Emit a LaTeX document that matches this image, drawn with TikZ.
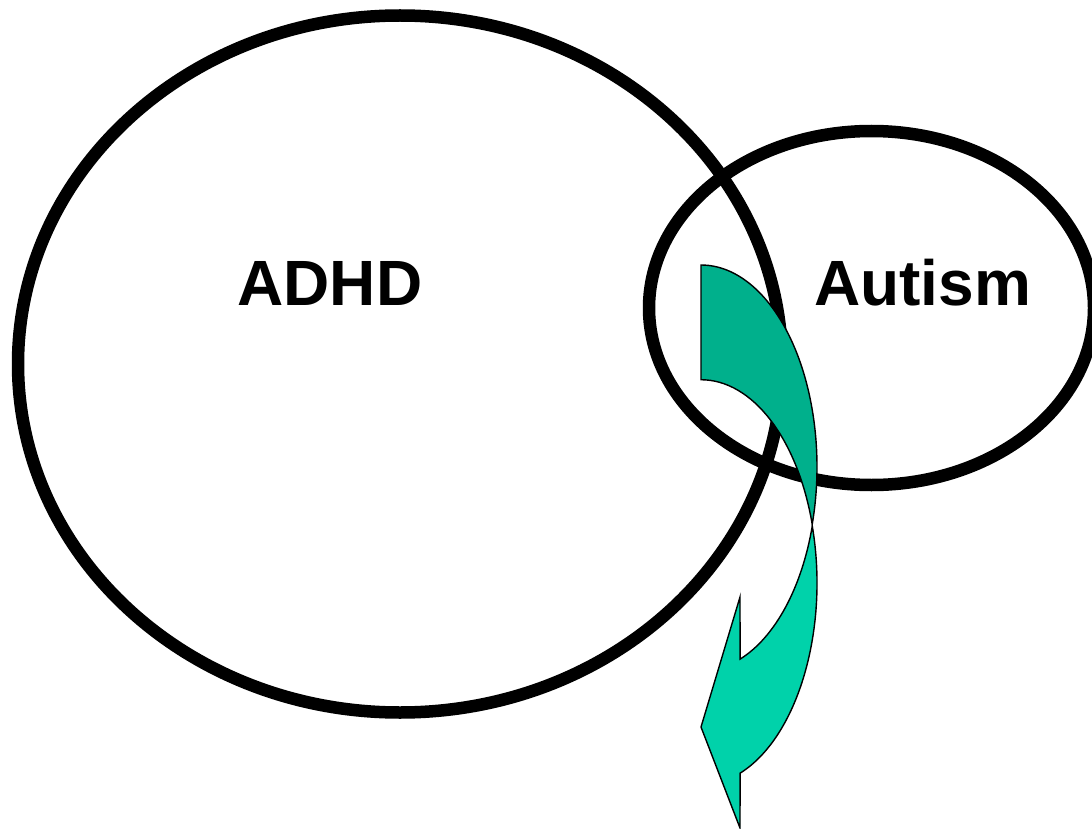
\documentclass[tikz,border=0pt]{standalone}
\usepackage{fontspec}
\setmainfont{Liberation Sans}
\usetikzlibrary{shapes.geometric}
\definecolor{bandback}{RGB}{0,176,140}
\definecolor{bandfront}{RGB}{0,210,170}
\tikzset{
  ring/.style={ellipse, draw=black, line width=12.5pt, inner sep=0pt, outer sep=0pt},
  biglabel/.style={anchor=base, font=\bfseries\fontsize{64}{64}\selectfont, inner sep=0pt},
  bandedge/.style={draw=black, line width=1.4pt, line join=miter}
}
\begin{document}
\begin{tikzpicture}[x=1pt,y=-1pt]
\useasboundingbox (0,0) rectangle (1092,829);
% Venn rings
\node[ring, minimum width=764pt, minimum height=697pt] (adhdring) at (400,364) {};
\node[ring, minimum width=445pt, minimum height=354pt] (autismring) at (871.5,308) {};
% labels
\node[biglabel] (adhd) at (330,305) {ADHD};
\node[biglabel] (autism) at (922.5,305) {Autism};
% curved arrow: front (lower) band with head
\path[bandedge, fill=bandfront]
  (740.1,659.1) arc[start angle=70.3, end angle=16.4, x radius=116, y radius=202]
  arc[start angle=-16.4, end angle=70.3, x radius=116, y radius=202]
  -- (740,828) -- (701,727) -- (740,597) -- cycle;
% back (upper) band
\path[bandedge, fill=bandback]
  (701,265) arc[start angle=-90, end angle=16.5, x radius=116, y radius=202]
  arc[start angle=-16.5, end angle=-90, x radius=116, y radius=202]
  -- cycle;
\end{tikzpicture}
\end{document}
